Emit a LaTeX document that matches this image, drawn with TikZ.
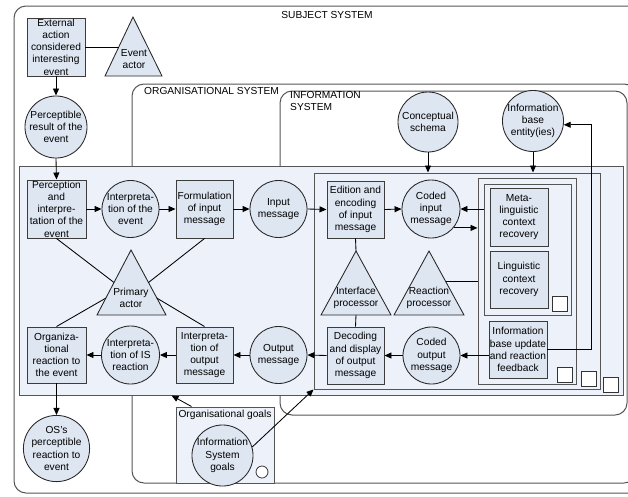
\documentclass[tikz,border=0pt]{standalone}
\usepackage{fontspec}
\setmainfont{Liberation Sans}
\usetikzlibrary{calc,arrows.meta,fit}

\definecolor{nodefill}{RGB}{222,230,242}
\definecolor{panelfill}{RGB}{237,241,249}
\definecolor{edge}{RGB}{60,60,60}
\definecolor{frame}{RGB}{85,85,85}

\tikzset{
  lbl/.style={font=\fontsize{10.2}{12.2}\selectfont, align=center, inner sep=0pt},
  procbox/.style={lbl, rectangle, draw=edge, line width=0.95pt, fill=nodefill,
    minimum width=58pt, minimum height=58pt},
  datacirc/.style={lbl, circle, draw=black!85, line width=0.85pt, fill=nodefill,
    minimum size=57pt},
  actor/.style={draw=black!85, line width=0.85pt, fill=nodefill, line join=miter},
  sysframe/.style={draw=frame, line width=1pt, rounded corners=12pt},
  container/.style={draw=frame, line width=0.95pt, fill=panelfill, inner sep=0pt},
  mini/.style={draw=black!80, line width=0.8pt, fill=white, inner sep=0pt},
  arr/.style={-{Triangle[length=7pt,width=6pt]}, line width=0.85pt},
  link/.style={line width=0.85pt},
}

\begin{document}
\begin{tikzpicture}[x=1pt,y=-1pt]
\useasboundingbox (0,0) rectangle (628,496);
\clip (0,0) rectangle (628,496);

% system frames
\draw[sysframe] (14,6) rectangle (645,493);
\draw[sysframe] (132,84) rectangle (636,483);
\draw[sysframe] (280,91) rectangle (627,415);

% processing panels
\node[container, fit={(19,166) (623,395)}] (panel) {};
\node[container, fit={(314,173) (600,389)}] (isproc) {};
\node[container, fit={(478,178) (576,384)}] (nestout) {};
\node[container, fit={(484,184) (571,315)}] (nestin) {};
\node[mini, minimum size=15pt] (sq1) at (559.5,303.5) {};
\node[mini, minimum size=15pt] (sq2) at (565,374.5) {};
\node[mini, minimum size=15pt] (sq3) at (588.5,378.5) {};
\node[mini, minimum size=15pt] (sq4) at (610.5,384.5) {};

% goals box
\node[container, fit={(176,407) (274,483)}] (goals) {};
\node[lbl] (goalslbl) at (225,415) {Organisational goals};
\node[mini, circle, minimum size=12pt] (goalmark) at (262,472) {};

% frame labels
\node[lbl] (subjlbl) at (327,15) {SUBJECT SYSTEM};
\node[lbl, anchor=west] (orglbl) at (144,91) {ORGANISATIONAL SYSTEM};
\node[lbl, anchor=north west, align=left] (islbl) at (290,91) {INFORMATION\\SYSTEM};

% actors (triangles)
\coordinate (ev-t) at (133,17);  \coordinate (ev-l) at (105,76);  \coordinate (ev-r) at (162,76);
\coordinate (pa-t) at (131,250); \coordinate (pa-l) at (97,315);  \coordinate (pa-r) at (166,315);
\coordinate (ip-t) at (356,251); \coordinate (ip-l) at (321,315); \coordinate (ip-r) at (391,315);
\coordinate (rp-t) at (429,251); \coordinate (rp-l) at (394,315); \coordinate (rp-r) at (464,315);
\draw[actor] (ev-t) -- (ev-r) -- (ev-l) -- cycle;
\draw[actor] (pa-t) -- (pa-r) -- (pa-l) -- cycle;
\draw[actor] (ip-t) -- (ip-r) -- (ip-l) -- cycle;
\draw[actor] (rp-t) -- (rp-r) -- (rp-l) -- cycle;
\node[lbl] (ev) at (134,59) {Event\\actor};
\node[lbl] (pa) at (131,298) {Primary\\actor};
\node[lbl] (ip) at (356,298) {Interface\\processor};
\node[lbl] (rp) at (429,298) {Reaction\\processor};

% processes
\node[procbox] (ext) at (56,47) {External\\action\\considered\\interesting\\event};
\node[procbox, minimum width=59pt] (percep) at (56.5,209) {Perception\\and\\interpre-\\tation of the\\event};
\node[procbox, minimum width=57pt] (form) at (204.5,209) {Formulation\\of input\\message};
\node[procbox, minimum width=57pt, minimum height=57pt] (edit) at (355.5,209.5) {Edition and\\encoding\\of input\\message};
\node[procbox] (meta) at (519,217) {Meta-\\linguistic\\context\\recovery};
\node[procbox, minimum height=57pt] (ling) at (519,279.5) {Linguistic\\context\\recovery};
\node[procbox, minimum height=57pt] (ibu) at (518,349.5) {Information\\base update\\and reaction\\feedback};
\node[procbox, minimum width=59pt, minimum height=56pt] (org) at (56.5,355) {Organiza-\\tional\\reaction to\\the event};
\node[procbox, minimum width=57pt, minimum height=56pt] (iom) at (204.5,355) {Interpreta-\\tion of\\output\\message};
\node[procbox, minimum width=57pt, minimum height=57pt] (dec) at (355.5,355.5) {Decoding\\and display\\of output\\message};

% data
\node[datacirc] (perc) at (56,127) {Perceptible\\result of the\\event};
\node[datacirc] (ie) at (130.5,209) {Interpreta-\\tion of the\\event};
\node[datacirc] (inmsg) at (278.5,209) {Input\\message};
\node[datacirc, minimum size=58pt] (cim) at (431,209) {Coded\\input\\message};
\node[datacirc, minimum size=60pt] (schema) at (428,122) {Conceptual\\schema};
\node[datacirc, minimum size=58pt] (ibe) at (533,121) {Information\\base\\entity(ies)};
\node[datacirc, minimum size=58pt] (iisr) at (130.5,355) {Interpreta-\\tion of IS\\reaction};
\node[datacirc] (omsg) at (278.5,355) {Output\\message};
\node[datacirc] (com) at (431.5,355.5) {Coded\\output\\message};
\node[datacirc] (os) at (56.5,448.5) {OS's\\perceptible\\reaction to\\event};
\node[datacirc, minimum size=58pt] (isg) at (222.5,455.5) {Information\\System\\goals};

% flow of the event towards the information system
\coordinate (ev-side) at ($(ev-t)!0.51!(ev-l)$);
\draw[link] (ext.east) -- (ext.east -| ev-side);
\draw[arr] (ext.south) -- (perc.north);
\draw[arr] (perc.south) -- (percep.north);
\draw[arr] (percep.east) -- (ie.west);
\draw[arr] (ie.east) -- (form.west);
\draw[arr] (form.east) -- (inmsg.west);
\draw[arr] (inmsg.east) -- (edit.west);
\draw[arr] (edit.east) -- (cim.west);
\draw[arr] (cim.east -| nestin.west) -- (cim.east);
\draw[arr] (cim.-40) -- (cim.-40 -| nestout.west);
\draw[arr] (schema.south) -- (schema.south |- isproc.north);
\draw[arr] (ibe.south) -- (ibe.south |- isproc.north);

% flow of the reaction back to the organisation
\draw[arr] (com.east -| ibu.west) -- (com.east);
\draw[arr] (com.west) -- (dec.east);
\draw[arr] (dec.west) -- (omsg.east);
\draw[arr] (omsg.west) -- (iom.east);
\draw[arr] (iom.west) -- (iisr.east);
\draw[arr] (iisr.west) -- (org.east);
\draw[arr] (org.south) -- (os.north);

% information base feedback
\coordinate (fb) at (591,349);
\draw[arr] (ibu.east |- fb) -- (fb) |- (ibe.-7);

% actor links
\draw[link] (percep.south) -- ($(pa-t)!0.5!(pa-l)$);
\draw[link] (form.south) -- ($(pa-t)!0.5!(pa-r)$);
\draw[link] ($(pa-t)!0.74!(pa-l)$) -- (org.north);
\draw[link] ($(pa-t)!0.74!(pa-r)$) -- (iom.north);
\draw[link] (edit.south) -- (ip-t);
\draw[link] ($(ip-l)!0.5!(ip-r)$) -- (dec.north);
\coordinate (rp-side) at ($(rp-t)!0.48!(rp-r)$);
\draw[link] (rp-side) -- (rp-side -| nestout.west);

% goals
\draw[arr] ($(goals.north west)+(16,0)$) -- ($(panel.south west)+(153,0)$);
\draw[arr] (isg.16) -- (isproc.south west);
\end{tikzpicture}
\end{document}
